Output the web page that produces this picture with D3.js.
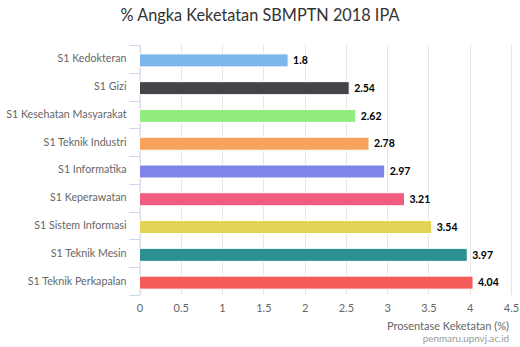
<!DOCTYPE html>
<html><head><meta charset="utf-8">
<script src="https://cdn.jsdelivr.net/npm/d3@7"></script>
<style>body{margin:0;background:#fff}</style>
</head><body>
<svg id="c" width="520" height="347"></svg>
<script>
const categories = ["S1 Kedokteran","S1 Gizi","S1 Kesehatan Masyarakat","S1 Teknik Industri","S1 Informatika","S1 Keperawatan","S1 Sistem Informasi","S1 Teknik Mesin","S1 Teknik Perkapalan"];
const values = [1.8,2.54,2.62,2.78,2.97,3.21,3.54,3.97,4.04];
const colors = ["#7cb5ec","#434348","#90ed7d","#f7a35c","#8085e9","#f15c80","#e4d354","#2b908f","#f45b5b"];
const xTicks = [0,0.5,1,1.5,2,2.5,3,3.5,4,4.5];
const title = "% Angka Keketatan SBMPTN 2018 IPA";
const xTitle = "Prosentase Keketatan (%)";
const credits = "penmaru.upnvj.ac.id";

const FONT = "Lato, 'DejaVu Sans', sans-serif";
const svg = d3.select("#c").style("font-family", FONT);
const L = 139.5, R = 511, T = 45, B = 295;
const x = d3.scaleLinear().domain([0,4.5]).range([L,R]);
const y = d3.scaleBand().domain(categories).range([T,B]);

svg.append("text").attr("x",260).attr("y",21).attr("text-anchor","middle")
  .attr("fill","#333333").style("font-size","16.3px").text(title);

// gridlines
svg.append("g").selectAll("line").data(xTicks).join("line")
  .attr("x1",d=>Math.round(x(d))+0.5).attr("x2",d=>Math.round(x(d))+0.5)
  .attr("y1",T).attr("y2",B).attr("stroke","#e6e6e6").attr("stroke-width",1);

// y axis
const ya = svg.append("g").attr("transform",`translate(${L},0)`)
  .call(d3.axisLeft(y).tickSize(0).tickPadding(13));
ya.select(".domain").attr("stroke","#ccd6eb");
ya.selectAll("text").attr("fill","#666666").style("font-size","10.7px").style("font-family",FONT);
// category boundary tick marks
const bounds = categories.map(c=>y(c)).concat([B]);
svg.append("g").selectAll("line").data(bounds).join("line")
  .attr("x1",L-10).attr("x2",L).attr("y1",d=>Math.round(d)+0.5).attr("y2",d=>Math.round(d)+0.5)
  .attr("stroke","#ccd6eb");

// bars
const bh = 13;
svg.append("g").selectAll("rect").data(values).join("rect")
  .attr("x",x(0)).attr("y",(d,i)=>y(categories[i])+y.bandwidth()/2-bh/2+1.5)
  .attr("width",d=>x(d)-x(0)).attr("height",bh)
  .attr("fill",(d,i)=>colors[i]).attr("stroke","#ffffff").attr("stroke-width",1);

// data labels
svg.append("g").selectAll("text").data(values).join("text")
  .attr("x",d=>x(d)+5).attr("y",(d,i)=>y(categories[i])+y.bandwidth()/2+1.5)
  .attr("dy","0.35em").attr("fill","#000").style("font-size","10.5px").style("font-weight","bold")
  .attr("stroke","#fff").attr("stroke-width",2).attr("paint-order","stroke")
  .text(d=>d);

// x axis labels
const xa = svg.append("g").attr("transform",`translate(0,${B})`)
  .call(d3.axisBottom(x).tickValues(xTicks).tickSize(0).tickPadding(9).tickFormat(d=>d));
xa.select(".domain").remove();
xa.selectAll("text").attr("fill","#666666").style("font-size","11px").style("font-family",FONT);

svg.append("text").attr("x",509).attr("y",330).attr("text-anchor","end")
  .attr("fill","#666666").style("font-size","11px").text(xTitle);
svg.append("text").attr("x",509).attr("y",342).attr("text-anchor","end")
  .attr("fill","#999999").style("font-size","9.8px").text(credits);
</script>
</body></html>
